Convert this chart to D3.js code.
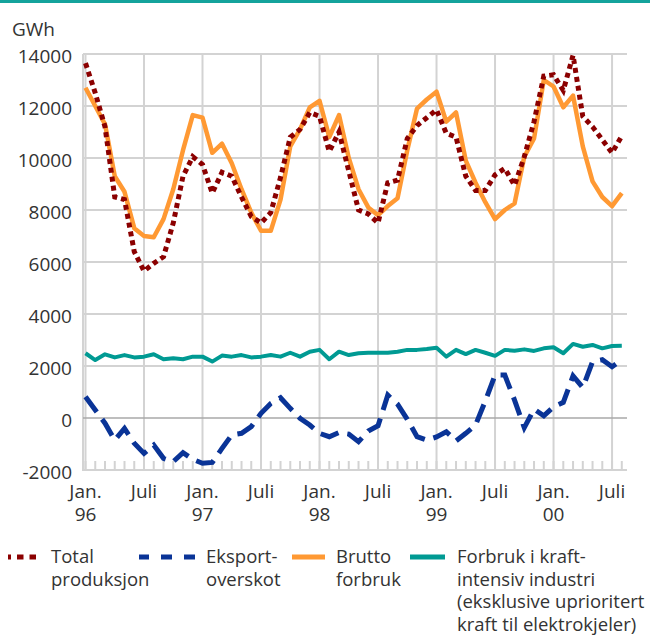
<!DOCTYPE html>
<html>
<head>
<meta charset="utf-8">
<script src="https://cdn.jsdelivr.net/npm/d3@7"></script>
<style>
  body { margin: 0; background: #fff; }
  svg { display: block; font-family: "Open Sans", sans-serif; }
</style>
</head>
<body>
<div id="app"></div>
<script>
// monthly values, Jan 96 .. Aug 00 (GWh)
const totalProduksjon = [
  13650, 12500, 11200, 8500, 8400, 6400, 5650, 5950, 6200, 7500, 9300, 10050,
  9750, 8650, 9450, 9300, 8500, 7750, 7500, 7900, 9250, 10800, 11100, 11750,
  11600, 10250, 11000, 9500, 8000, 7850, 7500, 9050, 9150, 10750, 11250, 11550,
  11850, 10950, 10800, 9300, 8750, 8750, 9350, 9600, 8950, 10050, 11400, 13150,
  13200, 12600, 13950, 11600, 11200, 10700, 10200, 10850
]
const eksportOverskot = [
  820, 310, -200, -850, -400, -970, -1360, -1040, -1550, -1680, -1330, -1590,
  -1740, -1710, -1170, -650, -590, -330, 180, 560, 780, 370, -10, -270,
  -590, -720, -560, -620, -910, -500, -300, 880, 530, -50, -720, -850,
  -730, -530, -880, -590, -270, 650, 1650, 1650, 690, -370, 340, 80,
  430, 600, 1620, 1170, 2170, 2240, 1970, 2240
]
const bruttoForbruk = [
  12700, 12000, 11300, 9300, 8700, 7300, 7000, 6950, 7650, 8800, 10300, 11650,
  11550, 10200, 10550, 9800, 8800, 7900, 7200, 7200, 8400, 10450, 11100, 11950,
  12200, 10800, 11650, 10000, 8800, 8100, 7800, 8150, 8450, 10300, 11900, 12250,
  12550, 11400, 11750, 9900, 9050, 8300, 7650, 8000, 8250, 10050, 10750, 13000,
  12750, 11950, 12400, 10450, 9100, 8500, 8150, 8650
]
const kraftintensiv = [
  2490, 2230, 2450, 2330, 2420, 2330, 2360, 2450, 2260, 2300, 2260, 2360,
  2360, 2170, 2400, 2360, 2420, 2330, 2360, 2420, 2360, 2510, 2360, 2550,
  2620, 2260, 2550, 2420, 2490, 2510, 2510, 2510, 2550, 2620, 2620, 2650,
  2700, 2360, 2620, 2460, 2620, 2510, 2390, 2620, 2590, 2640, 2580, 2680,
  2720, 2490, 2850, 2740, 2810, 2680, 2770, 2780
]
const xTickIndex = [0, 6, 12, 18, 24, 30, 36, 42, 48, 54]
const xTickLabels = ["Jan.|96", "Juli", "Jan.|97", "Juli", "Jan.|98", "Juli", "Jan.|99", "Juli", "Jan.|00", "Juli"]
const yTicks = [-2000, 0, 2000, 4000, 6000, 8000, 10000, 12000, 14000]

const legendItems = [
  { lines: ["Total", "produksjon"], color: "#8b0000", dash: "6.5,6", x1: 36, x2: 8, tx: 51 },
  { lines: ["Eksport-", "overskot"], color: "#0a3497", dash: "11,12", x1: 195, x2: 139, tx: 206 },
  { lines: ["Brutto", "forbruk"], color: "#ff9933", dash: null, x1: 292, x2: 325, tx: 336 },
  { lines: ["Forbruk i kraft-", "intensiv industri", "(eksklusive uprioritert", "kraft til elektrokjeler)"], color: "#009a93", dash: null, x1: 410, x2: 445, tx: 457 },
]

const W = 650, H = 635
const pLeft = 83, pRight = 627, pTop = 54, pBottom = 470

const svg = d3.select("#app").append("svg")
    .attr("width", W)
    .attr("height", H)

// teal rule on top
svg.append("rect")
    .attr("x", 0).attr("y", 0)
    .attr("width", W).attr("height", 3)
    .attr("fill", "#14a39c")

const x = d3.scaleLinear().domain([0, 55]).range([85.5, 621.8])
const y = d3.scaleLinear().domain([-2000, 14000]).range([pBottom, pTop])

const grid = svg.append("g").attr("stroke", "#d3d3d3").attr("stroke-width", 2)

grid.selectAll("line.h")
  .data(yTicks.filter(d => d !== 0 && d !== -2000))
  .join("line")
    .attr("class", "h")
    .attr("x1", pLeft).attr("x2", pRight)
    .attr("y1", d => y(d)).attr("y2", d => y(d))

grid.selectAll("line.v")
  .data(xTickIndex)
  .join("line")
    .attr("class", "v")
    .attr("x1", d => x(d)).attr("x2", d => x(d))
    .attr("y1", pTop).attr("y2", pBottom)

// minor ticks every month
grid.selectAll("line.m")
  .data(d3.range(0, 56))
  .join("line")
    .attr("class", "m")
    .attr("x1", d => x(d)).attr("x2", d => x(d))
    .attr("y1", pBottom - 9).attr("y2", pBottom)

// axes
grid.append("line")
    .attr("x1", pLeft).attr("x2", pLeft)
    .attr("y1", pTop).attr("y2", pBottom + 1)
grid.append("line")
    .attr("x1", pLeft).attr("x2", pRight)
    .attr("y1", pBottom).attr("y2", pBottom)

svg.append("line")
    .attr("x1", pLeft).attr("x2", pRight)
    .attr("y1", y(0)).attr("y2", y(0))
    .attr("stroke", "#a8a8a8")
    .attr("stroke-width", 1.5)

// y labels
svg.append("g")
    .attr("fill", "#333")
    .attr("font-size", 19)
    .attr("text-anchor", "end")
  .selectAll("text")
  .data(yTicks)
  .join("text")
    .attr("x", 72)
    .attr("y", d => y(d) + 9)
    .text(d => d)

svg.append("text")
    .attr("x", 12).attr("y", 36)
    .attr("fill", "#333")
    .attr("font-size", 19)
    .text("GWh")

// x labels, two lines each
const xl = svg.append("g")
    .attr("fill", "#333")
    .attr("font-size", 19)
    .attr("text-anchor", "middle")

xTickIndex.forEach((d, i) => {
  xTickLabels[i].split("|").forEach((s, k) => {
    xl.append("text")
        .attr("x", x(d))
        .attr("y", 498 + k * 23)
        .text(s)
  })
})

const line = d3.line()
    .x((d, i) => x(i))
    .y(d => y(d))

svg.append("path")
    .datum(kraftintensiv)
    .attr("d", line)
    .attr("fill", "none")
    .attr("stroke", "#009a93")
    .attr("stroke-width", 4)
    .attr("stroke-linejoin", "round")

svg.append("path")
    .datum(eksportOverskot)
    .attr("d", line)
    .attr("fill", "none")
    .attr("stroke", "#0a3497")
    .attr("stroke-width", 5)
    .attr("stroke-dasharray", "19,9")

svg.append("path")
    .datum(bruttoForbruk)
    .attr("d", line)
    .attr("fill", "none")
    .attr("stroke", "#ff9933")
    .attr("stroke-width", 4.5)
    .attr("stroke-linejoin", "round")

svg.append("path")
    .datum(totalProduksjon)
    .attr("d", line)
    .attr("fill", "none")
    .attr("stroke", "#8b0000")
    .attr("stroke-width", 5)
    .attr("stroke-dasharray", "5,4")

// legend
const lg = svg.append("g")
lg.selectAll("line")
  .data(legendItems)
  .join("line")
    .attr("x1", d => d.x1).attr("x2", d => d.x2)
    .attr("y1", 557).attr("y2", 557)
    .attr("stroke", d => d.color)
    .attr("stroke-width", 5)
    .attr("stroke-dasharray", d => d.dash)

legendItems.forEach(d => {
  d.lines.forEach((s, k) => {
    lg.append("text")
        .attr("fill", "#333")
        .attr("font-size", 18.5)
        .attr("x", d.tx)
        .attr("y", 563 + k * 22.5)
        .text(s)
  })
})
</script>
</body>
</html>
